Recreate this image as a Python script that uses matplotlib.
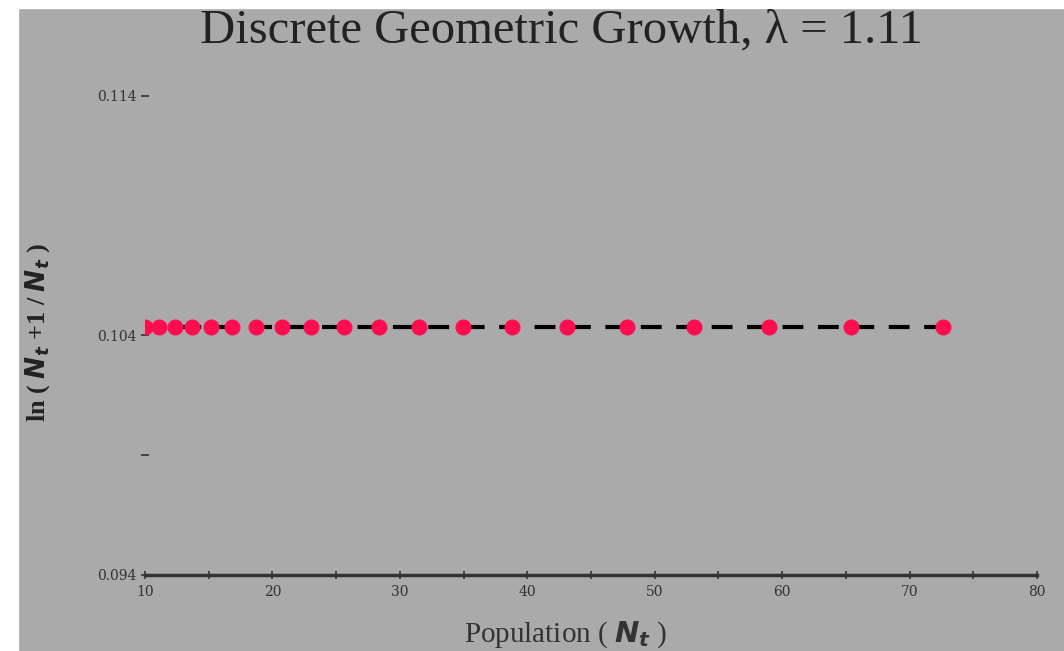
import matplotlib
matplotlib.use("Agg")
import matplotlib.pyplot as plt
from matplotlib.patches import Rectangle
from matplotlib.ticker import FixedLocator, FormatStrFormatter

# population sizes N_t and the log growth ratio
population = [10.0, 11.1, 12.32, 13.68, 15.18, 16.85, 18.7, 20.76, 23.04, 25.58,
              28.39, 31.51, 34.98, 38.83, 43.1, 47.84, 53.1, 58.94, 65.43, 72.62]
log_ratio = [0.10436] * len(population)

x_ticks = [10, 20, 30, 40, 50, 60, 70, 80]
x_minor = [15, 25, 35, 45, 55, 65, 75]
y_ticks = [0.094, 0.104, 0.114]
y_minor = [0.099]

plt.rcParams['mathtext.fontset'] = 'custom'
plt.rcParams['mathtext.it'] = 'DejaVu Sans:bold:italic'
plt.rcParams['mathtext.rm'] = 'DejaVu Sans:bold'

bg = '#aaaaaa'
fig = plt.figure(figsize=(10.64, 6.51), dpi=100, facecolor=bg)
# white strips where the screenshot was cropped
fig.patches.append(Rectangle((0, 0), 18 / 1064, 1, transform=fig.transFigure,
                             color='white', zorder=0))
fig.patches.append(Rectangle((0, 1 - 8 / 651), 1, 8 / 651, transform=fig.transFigure,
                             color='white', zorder=0))

ax = fig.add_axes([145 / 1064, 1 - 575 / 651, 892 / 1064, 515 / 651])
ax.set_facecolor(bg)

ax.plot(population, log_ratio, linestyle='--', color='black', linewidth=3,
        dashes=(5, 3.5), marker='o', markersize=10.5, markerfacecolor='#ff0d4f',
        markeredgecolor='#ff0d4f', zorder=3)

ax.set_xlim(10, 80)
ax.set_ylim(0.094, 0.1155)
ax.xaxis.set_major_locator(FixedLocator(x_ticks))
ax.xaxis.set_minor_locator(FixedLocator(x_minor))
ax.yaxis.set_major_locator(FixedLocator(y_ticks))
ax.yaxis.set_minor_locator(FixedLocator(y_minor))
ax.yaxis.set_major_formatter(FormatStrFormatter('%.3f'))

for side in ['top', 'right', 'left']:
    ax.spines[side].set_visible(False)
ax.spines['bottom'].set_color('#333333')
ax.spines['bottom'].set_linewidth(2.5)

ax.tick_params(axis='both', which='both', direction='inout', colors='#333333',
               labelsize=10, length=6, width=1.2)
ax.tick_params(axis='x', pad=4)
ax.tick_params(axis='y', pad=3)
for lab in ax.get_xticklabels() + ax.get_yticklabels():
    lab.set_family('DejaVu Serif')

fig.text(562 / 1064, 1 - 42 / 651, r'Discrete Geometric Growth, λ = 1.11',
         ha='center', va='baseline', fontsize=35, family='Liberation Serif',
         color='#222222')
fig.text(566 / 1064, 1 - 635 / 651, r'Population ( $N_t$ )', ha='center', va='center',
         fontsize=21, family='Liberation Serif', color='#333333')
fig.text(38 / 1064, 1 - 333 / 651, r'ln ( $N_t$ +1 / $N_t$ )', ha='center', va='center',
         rotation=90, fontsize=19, family='Liberation Serif', fontweight='bold',
         color='#222222')

fig.savefig('out.png', dpi=100, facecolor=bg)
